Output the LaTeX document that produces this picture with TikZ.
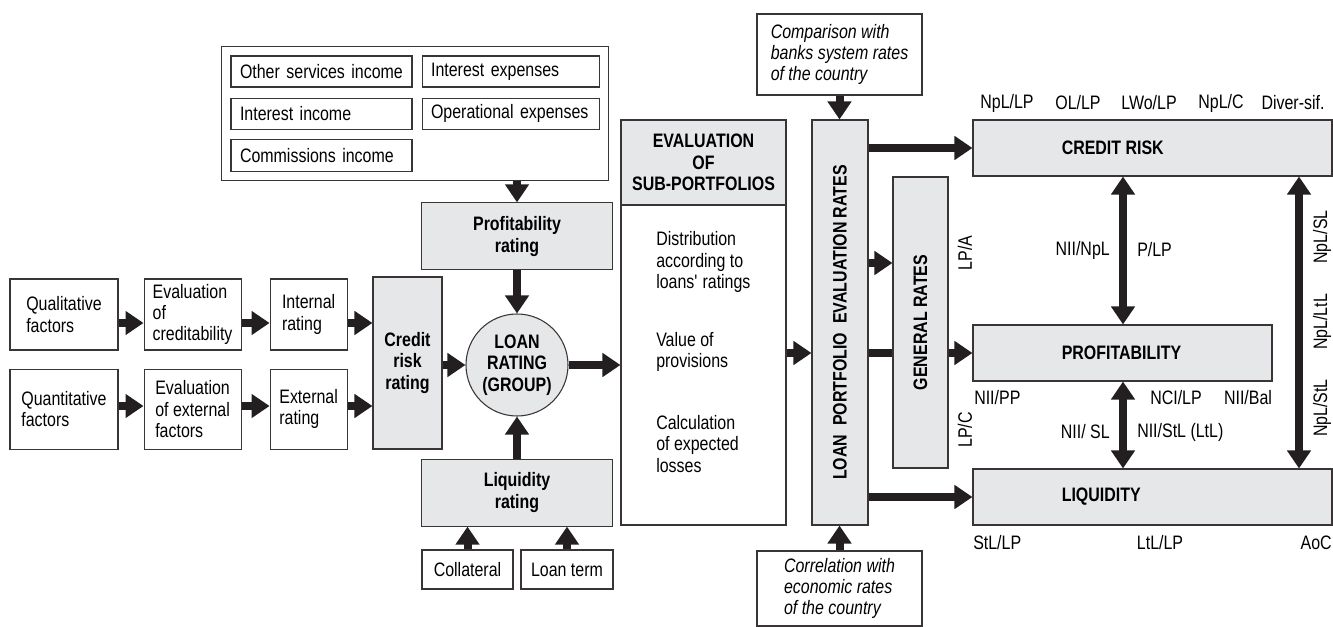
\documentclass[tikz,border=0pt]{standalone}
\usepackage{fontspec}
\setmainfont{Liberation Sans}[FakeStretch=0.82]
\usepackage{tikz}
\usetikzlibrary{arrows.meta, positioning, fit}
\definecolor{boxgray}{RGB}{230,231,232}
\definecolor{ink}{RGB}{35,31,32}
\newcommand{\txtsize}{\fontsize{14.6pt}{16pt}\selectfont}

\begin{document}
\begin{tikzpicture}[
        x=0.75pt, y=-0.75pt,
        node distance=13.5pt and 18.75pt,
        box/.style={rectangle, draw=ink!90, line width=0.8pt, fill=white, inner sep=0pt, align=left, font=\txtsize},
        gbox/.style={box, fill=boxgray, align=center, font=\txtsize\bfseries},
        item/.style={box, text width=122.25pt, inner xsep=6.75pt, minimum height=23.25pt},
        lbl/.style={inner sep=0pt, font=\txtsize},
        arrow/.style={-{Triangle[width=17.25pt, length=13.5pt]}, line width=6pt, draw=ink},
        biarrow/.style={{Triangle[width=17.25pt, length=13.5pt]}-{Triangle[width=17.25pt, length=13.5pt]}, line width=6pt, draw=ink}
    ]
        \useasboundingbox (0,0) rectangle (1333,627);

        % Factors and partial ratings
        \node[box, minimum width=81pt, minimum height=53.25pt] (qual) at (64,314.5) {Qualitative\\factors};
        \node[box, minimum width=81pt, minimum height=60pt, below=of qual] (quant) {Quantitative\\factors};
        \node[box, minimum width=72.75pt, minimum height=53.25pt, right=of qual] (evalcred) {Evaluation\\of\\creditability};
        \node[box, minimum width=72.75pt, minimum height=60pt, below=of evalcred] (evalext) {Evaluation\\of external\\factors};
        \node[box, minimum width=57.75pt, minimum height=53.25pt, right=21pt of evalcred] (intrat) {Internal\\rating};
        \node[box, minimum width=57.75pt, minimum height=60pt, below=of intrat] (extrat) {External\\rating};
        \node[gbox, minimum width=51.75pt, minimum height=129pt] (crrat) at (407.5,363) {Credit\\risk\\rating};

        % Income and expenses
        \node[item] (osi) at (321.5,71.5) {Other services income};
        \node[item, below=7.5pt of osi] (iinc) {Interest income};
        \node[item, minimum height=24pt, below=6.75pt of iinc] (cinc) {Commissions income};
        \node[item, text width=119.25pt, right=6.75pt of osi] (iexp) {Interest expenses};
        \node[item, text width=119.25pt, below=7.5pt of iexp] (oexp) {Operational expenses};
        \node[draw=ink!90, line width=0.8pt, inner sep=6.75pt, fit=(osi)(iexp)(cinc)] (incgroup) {};

        % Loan rating
        \node[circle, draw=ink!90, line width=0.8pt, fill=boxgray, minimum size=76.5pt, inner sep=0pt, align=center, font=\txtsize\bfseries] (loan) at (517,365) {LOAN\\RATING\\(GROUP)};
        \node[gbox, minimum width=143.25pt, minimum height=50.25pt, above=32.25pt of loan] (profrat) {Profitability\\rating};
        \node[gbox, minimum width=143.25pt, minimum height=50.25pt, below=31.5pt of loan] (liqrat) {Liquidity\\rating};
        \node[box, align=center, minimum width=68.25pt, minimum height=29.25pt] (coll) at (467.5,569.5) {Collateral};
        \node[box, align=center, minimum width=69pt, minimum height=29.25pt] (lterm) at (567,569.5) {Loan term};

        % Sub-portfolios
        \node[box, minimum width=123.75pt, minimum height=303.75pt] (eval) at (703.5,322.5) {};
        \node[gbox, minimum width=123.75pt, minimum height=63.75pt, anchor=north] (evalhead) at (eval.north) {EVALUATION\\OF\\SUB-PORTFOLIOS};
        \node[lbl, anchor=west, align=left] (distr) at (656,262) {Distribution\\according to\\loans\textquotesingle{} ratings};
        \node[lbl, anchor=west, align=left] (prov) at (656,352) {Value of\\provisions};
        \node[lbl, anchor=west, align=left] (loss) at (656,444) {Calculation\\of expected\\losses};

        % Evaluation rates
        \node[gbox, minimum width=42pt, minimum height=303.75pt] (lper) at (840,322.5) {};
        \node[lbl, font=\txtsize\bfseries, rotate=90] (lpertxt) at (lper.center) {LOAN\ \ PORTFOLIO\ \ EVALUATION RATES};
        \node[box, minimum width=123.75pt, minimum height=60.75pt, font=\txtsize\itshape] (comp) at (839.5,54.5) {Comparison with\\banks system rates\\of the country};
        \node[box, minimum width=123.75pt, minimum height=56.25pt, font=\txtsize\itshape] (corr) at (839.5,588.5) {Correlation with\\economic rates\\of the country};

        % Groups of rates
        \node[gbox, minimum width=269.25pt, minimum height=42pt] (crisk) at (1152.5,148) {};
        \node[lbl, font=\txtsize\bfseries, anchor=west] (crisktxt) at ([xshift=66.75pt]crisk.west) {CREDIT RISK};
        \node[gbox, minimum width=224.25pt, minimum height=42pt] (prof) at (1122.5,353) {};
        \node[lbl, font=\txtsize\bfseries, anchor=west] (proftxt) at ([xshift=66.75pt]prof.west) {PROFITABILITY};
        \node[gbox, minimum width=269.25pt, minimum height=42pt] (liq) at (1152.5,497) {};
        \node[lbl, font=\txtsize\bfseries, anchor=west] (liqtxt) at ([xshift=66.75pt]liq.west) {LIQUIDITY};

        % Connections to credit risk rating
        \coordinate (rowA) at (0,323);
        \coordinate (rowB) at (0,406);
        \draw[arrow] (qual.east |- rowA) -- (evalcred.west |- rowA);
        \draw[arrow] (evalcred.east |- rowA) -- (intrat.west |- rowA);
        \draw[arrow] (intrat.east |- rowA) -- (crrat.west |- rowA);
        \draw[arrow] (quant.east |- rowB) -- (evalext.west |- rowB);
        \draw[arrow] (evalext.east |- rowB) -- (extrat.west |- rowB);
        \draw[arrow] (extrat.east |- rowB) -- (crrat.west |- rowB);

        % Connections to loan rating
        \draw[arrow] (crrat.east |- loan.west) -- (loan.west);
        \draw[arrow] (incgroup.south -| profrat.north) -- (profrat.north);
        \draw[arrow] (profrat.south) -- (loan.north);
        \draw[arrow] (liqrat.north) -- (loan.south);
        \draw[arrow] (coll.north) -- (coll.north |- liqrat.south);
        \draw[arrow] (lterm.north) -- (lterm.north |- liqrat.south);
        \draw[arrow] (loan.east) -- (eval.west |- loan.east);

        % Connections to evaluation rates
        \draw[arrow] (eval.east |- prof.west) -- (lper.west |- prof.west);
        \draw[arrow] (comp.south) -- (comp.south |- lper.north);
        \draw[arrow] (corr.north) -- (corr.north |- lper.south);
        \draw[arrow] (lper.east |- crisk.west) -- (crisk.west);
        \draw[arrow] (lper.east |- prof.west) -- (prof.west);
        \draw[arrow] (lper.east |- liq.west) -- (liq.west);

        % General rates (over the profitability line)
        \node[gbox, minimum width=41.25pt, minimum height=218.25pt] (genrates) at (920.5,322.5) {};
        \node[lbl, font=\txtsize\bfseries, rotate=90] (genratestxt) at (genrates.center) {GENERAL RATES};
        \coordinate (rowG) at (0,263);
        \draw[arrow] (lper.east |- rowG) -- (genrates.west |- rowG);

        % Links between groups
        \coordinate (colA) at (1123,0);
        \coordinate (colB) at (1299,0);
        \draw[biarrow] (crisk.south -| colA) -- (prof.north -| colA);
        \draw[biarrow] (prof.south -| colA) -- (liq.north -| colA);
        \draw[biarrow] (crisk.south -| colB) -- (liq.north -| colB);

        % Rate labels
        \node[lbl] (npllp) at (1007,103) {NpL/LP};
        \node[lbl] (ollp) at (1078,103) {OL/LP};
        \node[lbl] (lwolp) at (1149,103) {LWo/LP};
        \node[lbl] (nplc) at (1221,103) {NpL/C};
        \node[lbl] (diversif) at (1293,103) {Diver-sif.};
        \node[lbl, anchor=east] (niinpl) at (1110,250) {NII/NpL};
        \node[lbl, anchor=west] (plp) at (1137,250) {P/LP};
        \node[lbl, rotate=90] (lpa) at (965,253) {LP/A};
        \node[lbl, rotate=90] (lpc) at (965,430) {LP/C};
        \node[lbl, anchor=west] (niipp) at (974,398) {NII/PP};
        \node[lbl] (ncilp) at (1176,398) {NCI/LP};
        \node[lbl] (niibal) at (1248,398) {NII/Bal};
        \node[lbl, anchor=east] (niisl) at (1110,432) {NII/ SL};
        \node[lbl, anchor=west] (niistl) at (1137,432) {NII/StL (LtL)};
        \node[lbl, rotate=90] (nplsl) at (1322,237) {NpL/SL};
        \node[lbl, rotate=90] (nplltl) at (1322,322) {NpL/LtL};
        \node[lbl, rotate=90] (nplstl) at (1322,408) {NpL/StL};
        \node[lbl, anchor=west] (stllp) at (973,543) {StL/LP};
        \node[lbl] (ltllp) at (1160,543) {LtL/LP};
        \node[lbl, anchor=east] (aoc) at (1332,543) {AoC};

    \end{tikzpicture}
\end{document}
